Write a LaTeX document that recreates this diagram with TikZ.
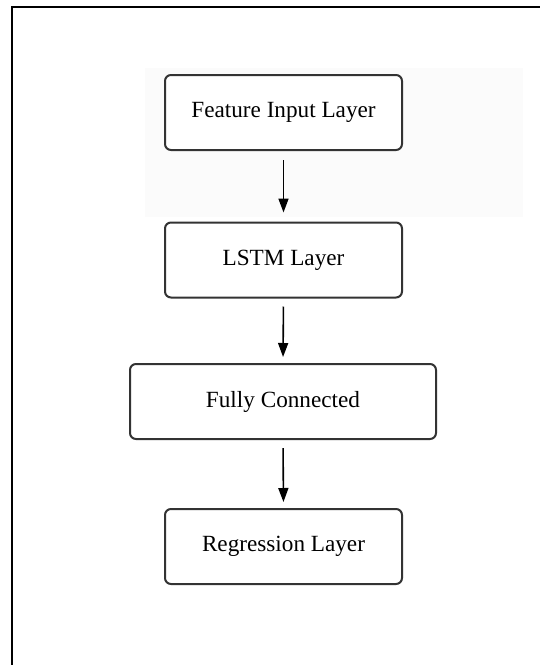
\documentclass[tikz,border=0pt]{standalone}
\usepackage{fontspec}
\setmainfont{Liberation Serif}
\usetikzlibrary{arrows.meta}

\tikzset{
  layerbox/.style={draw=black!80, line width=2pt, rounded corners=6pt,
    minimum height=75pt, inner sep=0pt, font=\fontsize{23.2}{27}\selectfont, fill=white},
  flow/.style={-{Triangle[length=14pt,width=10pt]}, line width=1.6pt, black}
}

\begin{document}
\begin{tikzpicture}[x=1pt,y=-1pt]
  % canvas
  \useasboundingbox (0,0) rectangle (539,665);
  \fill[white] (0,0) rectangle (539,665);
  % faint shaded band behind the first layer
  \fill[black!1.5] (145,68) rectangle (523,217);
  % outer frame (runs past the right and bottom edges)
  \draw[line width=2.4pt, black] (12,680) -- (12,7) -- (560,7);

  % layers
  \node[layerbox, minimum width=237pt] (inp) at (283.5,112.5) {Feature Input Layer};
  \node[layerbox, minimum width=237pt] (lstm) at (283.5,260) {LSTM Layer};
  \node[layerbox, minimum width=306pt] (fc) at (283,401.5) {Fully Connected};
  \node[layerbox, minimum width=237pt] (reg) at (283.5,546.5) {Regression Layer};

  % connectors
  \draw[flow, shorten <=9pt, shorten >=9pt] (inp.south) -- (lstm.north);
  \draw[flow, shorten <=8pt, shorten >=6pt] (lstm.south) -- (fc.north);
  \draw[flow, shorten <=8pt, shorten >=6pt] (fc.south) -- (reg.north);
\end{tikzpicture}
\end{document}
